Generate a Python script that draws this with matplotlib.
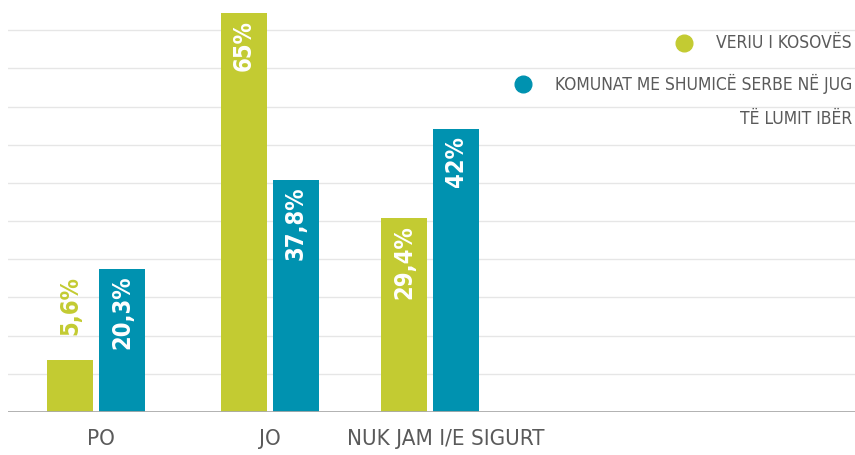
import numpy as np
import matplotlib
matplotlib.use("Agg")
import matplotlib.pyplot as plt
from matplotlib import font_manager
from matplotlib.lines import Line2D

categories = ["PO", "JO", "NUK JAM I/E SIGURT"]
series_names = ["VERIU I KOSOVËS", "KOMUNAT ME SHUMICË SERBE NË JUG\nTË LUMIT IBËR"]
# bar heights as drawn in the picture (the drawn bars are not exactly to scale with the labels)
veriu_heights = [8.5, 65.0, 31.6]
jug_heights = [23.3, 37.8, 46.1]
veriu_labels = ["5,6%", "65%", "29,4%"]
jug_labels = ["20,3%", "37,8%", "42%"]

green = "#c3cb32"
teal = "#0092b0"
grey_text = "#5a5a5a"

# look for any narrow / condensed face that is installed
order = ["ultra-condensed", "extra-condensed", "condensed", "semi-condensed"]
best = None
for f in font_manager.fontManager.ttflist:
    st = f.stretch if isinstance(f.stretch, str) else "normal"
    narrow = st in order or "Narrow" in f.name or "Condensed" in f.name or "Cond" in f.fname
    if not narrow:
        continue
    rank = order.index(st) if st in order else 2
    if best is None or rank < best[0]:
        best = (rank, f.name, st)

if best:
    plt.rcParams["font.family"] = [best[1], "DejaVu Sans"]
    plt.rcParams["font.stretch"] = best[2] if best[2] in order else "normal"
    cat_size, leg_size, val_size = 16, 12.5, 17
else:
    plt.rcParams["font.family"] = ["DejaVu Sans"]
    cat_size, leg_size, val_size = 14, 11, 15

fig = plt.figure(figsize=(8.55, 4.55), dpi=100)
ax = fig.add_axes([8 / 855, 43 / 455, 847 / 855, 412 / 455])

group_x = np.array([0, 1, 1.92])
width = 46 / 174
offset = 26 / 174

bars_v = ax.bar(group_x - offset, veriu_heights, width, color=green, zorder=3)
bars_j = ax.bar(group_x + offset, jug_heights, width, color=teal, zorder=3)

ax.set_xlim(-88 / 174, 759 / 174)
ax.set_ylim(0, 412 / 6.138)

for y in np.arange(1, 11) * 6.22:
    ax.axhline(y, color="#e6e6e6", lw=1.0, zorder=1)
ax.axhline(0, color="#aaaaaa", lw=2.0, zorder=4)

for spine in ax.spines.values():
    spine.set_visible(False)
ax.set_yticks([])
ax.set_xticks(group_x + np.array([0.03, 0.0, 0.09]))
ax.set_xticklabels(categories, fontsize=cat_size, color=grey_text)
ax.tick_params(axis="x", length=0, pad=12)

for bars, labels in [(bars_v, veriu_labels), (bars_j, jug_labels)]:
    for b, lab in zip(bars, labels):
        cx = b.get_x() + b.get_width() / 2
        h = b.get_height()
        if h < 15:
            ax.annotate(lab, (cx, h), xytext=(0, 18), textcoords="offset points",
                        rotation=90, ha="center", va="bottom", fontsize=val_size,
                        fontweight="bold", color=b.get_facecolor(), zorder=5)
        else:
            ax.annotate(lab, (cx, h), xytext=(0, -5), textcoords="offset points",
                        rotation=90, ha="center", va="top", fontsize=val_size,
                        fontweight="bold", color="white", zorder=5)

# legend drawn by hand, dots left of right-aligned text
t1 = fig.text(852 / 855, 1 - 43 / 455, series_names[0], ha="right", va="center",
              fontsize=leg_size, color=grey_text)
lines = series_names[1].split("\n")
t2 = fig.text(852 / 855, 1 - 84 / 455, lines[0], ha="right", va="center",
              fontsize=leg_size, color=grey_text)
fig.text(852 / 855, 1 - 119 / 455, lines[1], ha="right", va="center",
         fontsize=leg_size, color=grey_text)

fig.canvas.draw()
r = fig.canvas.get_renderer()
for t, c in [(t1, green), (t2, teal)]:
    bb = t.get_window_extent(r)
    x = (bb.x0 - 32) / fig.bbox.width
    y = t.get_position()[1]
    fig.add_artist(Line2D([x], [y], marker="o", markersize=12, color=c,
                          linestyle="none", transform=fig.transFigure))

fig.savefig("out.png", dpi=100)
